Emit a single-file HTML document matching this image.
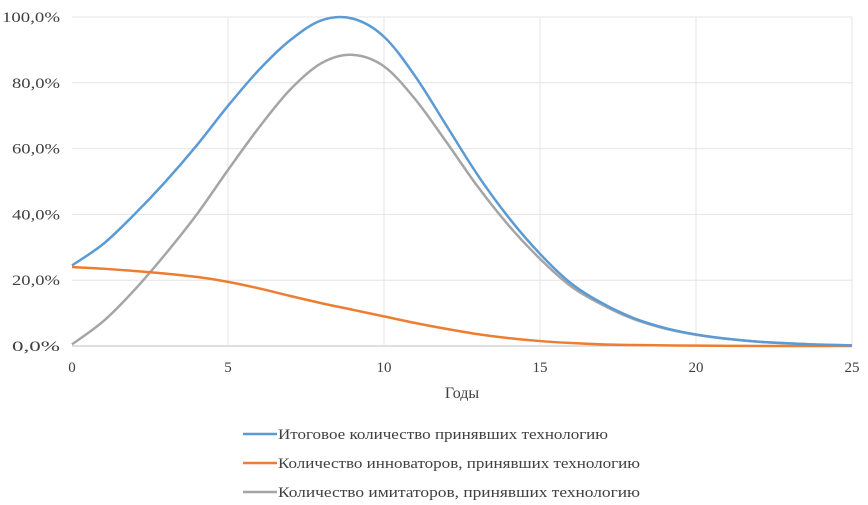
<!DOCTYPE html>
<html><head><meta charset="utf-8"><style>
body{margin:0;background:#fff;}
svg text{font-family:"Liberation Serif",serif;fill:#404040;}
</style></head><body>
<svg id="chart" width="868" height="500"></svg>
<script>
const years=[0,1,2,3,4,5,6,7,8,9,10,11,12,13,14,15,16,17,18,19,20,21,22,23,24,25];
const totalVals=[24.5,31,40,50,61,73,84,93,99,99.5,94,82,67,52,39,28,19,13,8.5,5.5,3.5,2.2,1.3,0.8,0.4,0.2];
const innovVals=[24,23.5,22.8,22,21,19.5,17.5,15.2,13,11,9,7,5.2,3.6,2.4,1.5,0.9,0.5,0.3,0.2,0.1,0.05,0,0,0,0];
const imitVals=[0.5,7.5,17,28,40,53.5,66.5,78,86,88.5,85,75,62,48.5,36.6,26.5,18.1,12.5,8.2,5.3,3.4,2.15,1.3,0.8,0.4,0.2];
const xTicks=[0,5,10,15,20,25];
const yTicks=[0,20,40,60,80,100];
const seriesNames=["Итоговое количество принявших технологию","Количество инноваторов, принявших технологию","Количество имитаторов, принявших технологию"];
const NS="http://www.w3.org/2000/svg";
const svg=document.getElementById('chart');
const X=v=>72+v*(852-72)/25;
const Y=v=>346-v*(346-17)/100;
function mk(t,a,p){const e=document.createElementNS(NS,t);for(const k in a)e.setAttribute(k,a[k]);(p||svg).appendChild(e);return e;}
yTicks.forEach(t=>{
 const l=mk('line',{x1:72,x2:852,y1:Y(t),y2:Y(t),stroke:t===0?'#bfbfbf':'#e4e4e4','stroke-width':1});
 
 
 const tx=mk('text',{x:60,y:Y(t)+5,'text-anchor':'end','font-size':15,textLength:t===100?58:48,lengthAdjust:'spacingAndGlyphs'});
 tx.textContent=t.toFixed(1).replace('.',',')+'%';
 
 
});
xTicks.forEach(t=>{
 if(t>0){const l=mk('line',{x1:X(t),x2:X(t),y1:17,y2:346,stroke:'#e4e4e4','stroke-width':1});
 
 }
 const tx=mk('text',{x:X(t),y:372,'text-anchor':'middle','font-size':15});
 tx.textContent=t;
 
 
});
const xt=mk('text',{x:462,y:398,'text-anchor':'middle','font-size':16});
xt.textContent='Годы';


function path(vals){
 const p=years.map((y,i)=>[X(y),Y(vals[i])]);
 let d='M'+p[0][0]+','+p[0][1];
 for(let i=0;i<p.length-1;i++){
  const p0=p[i-1]||p[i],p1=p[i],p2=p[i+1],p3=p[i+2]||p2;
  d+=' C'+(p1[0]+(p2[0]-p0[0])/6)+','+(p1[1]+(p2[1]-p0[1])/6)+' '+(p2[0]-(p3[0]-p1[0])/6)+','+(p2[1]-(p3[1]-p1[1])/6)+' '+p2[0]+','+p2[1];
 }
 return d;
}
const series=[[imitVals,'#a5a5a5','imitators-line'],[innovVals,'#ed7d31','innovators-line'],[totalVals,'#5b9bd5','total-line']];
series.forEach(s=>{
 const e=mk('path',{d:path(s[0]),fill:'none',stroke:s[1],'stroke-width':2.5});
 
 
});
const legCols=['#5b9bd5','#ed7d31','#a5a5a5'];
const legLens=[330,362,362];
seriesNames.forEach((n,i)=>{
 const y=434+i*29;
 const l=mk('line',{x1:243,x2:277,y1:y,y2:y,stroke:legCols[i],'stroke-width':2.5});
 
 
 const t=mk('text',{x:278,y:y+5,'font-size':15,textLength:legLens[i],lengthAdjust:'spacingAndGlyphs'});
 t.textContent=n;
 
 
});
</script>
</body></html>
